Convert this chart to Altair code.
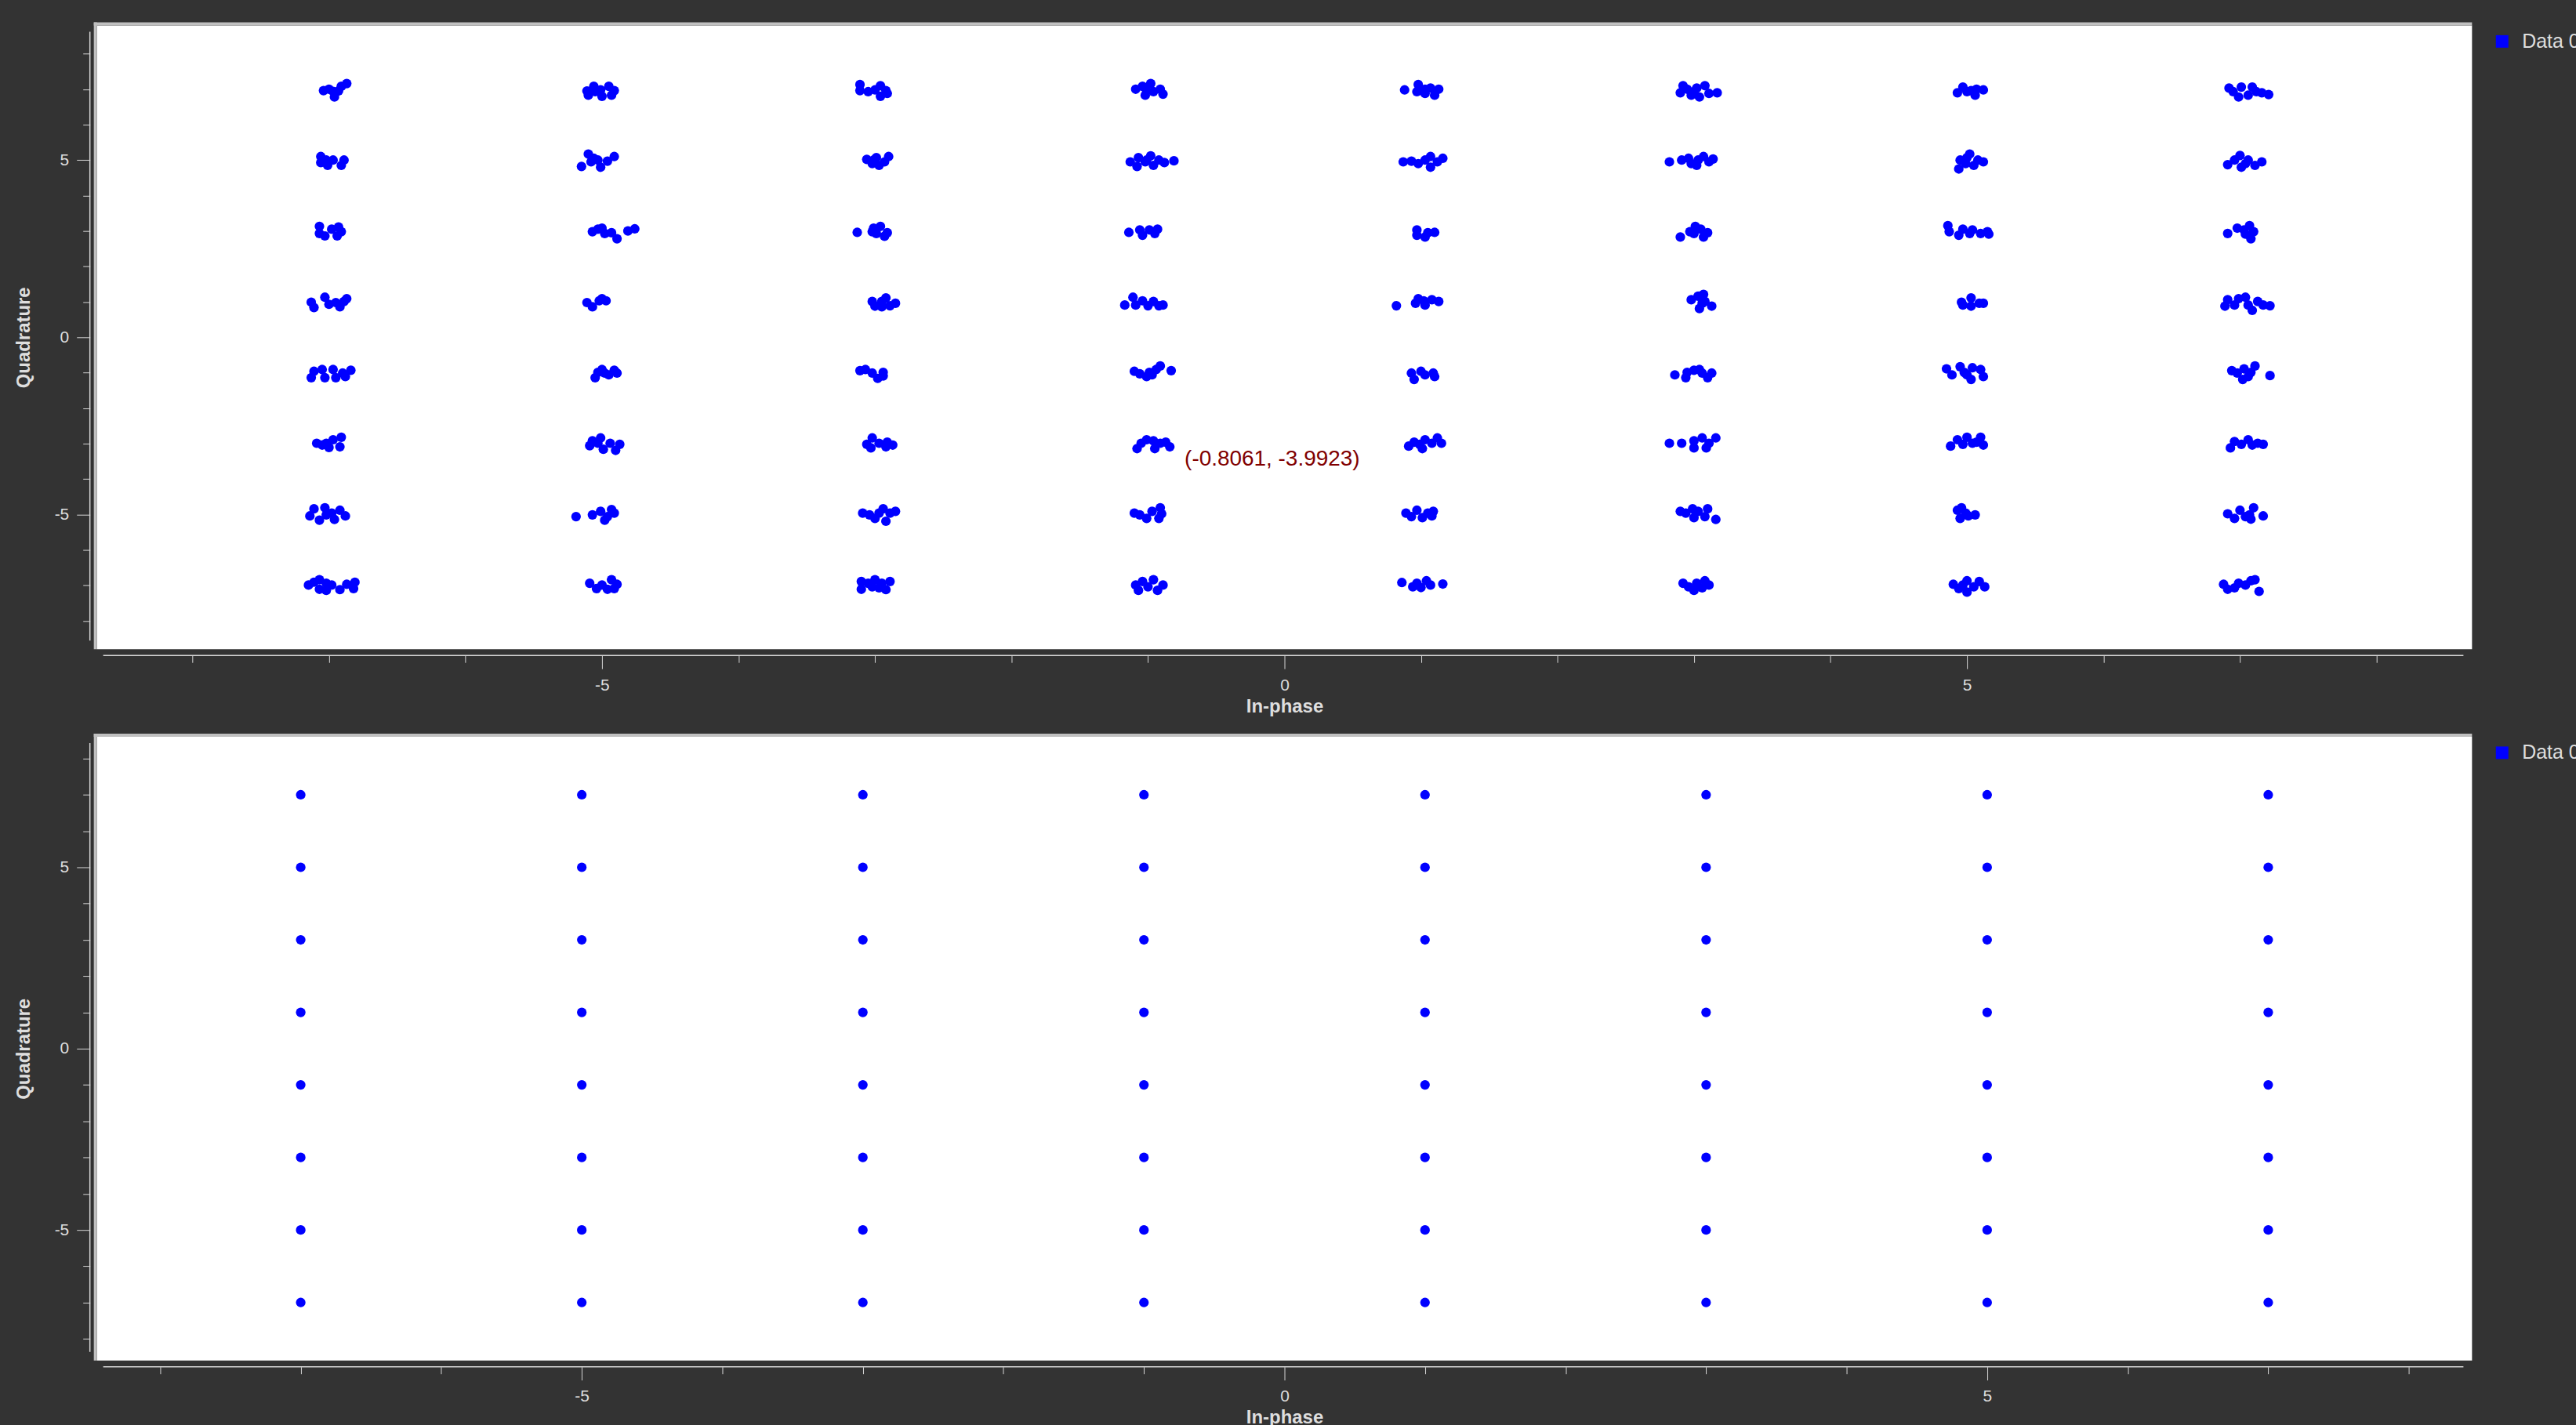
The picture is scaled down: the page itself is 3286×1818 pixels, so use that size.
import altair as alt
import pandas as pd

# Ideal 64-QAM levels (In-phase columns, Quadrature rows)
LEVELS_I = [-7, -5, -3, -1, 1, 3, 5, 7]
LEVELS_Q = [7, 5, 3, 1, -1, -3, -5, -7]
TICKS = list(range(-8, 9))
SERIES = "Data 0"
CURSOR = (-0.8061, -3.9923)

# Received-symbol offsets (dI, dQ) read per cluster; one list per column, rows Q = 7 .. -7
COL_M7 = [
    [(-0.04,-0.04),(0,0),(0.03,-0.06),(0.04,-0.22),(0.07,-0.05),(0.09,0.08),(0.13,0.16)],
    [(-0.06,0.10),(-0.06,-0.07),(-0.01,-0.15),(0.03,0),(0.09,-0.15),(0.11,0),(-0.02,0)],
    [(-0.07,0.13),(-0.07,-0.07),(-0.03,-0.14),(0.02,0.05),(0.06,-0.14),(0.09,-0.02),(0.07,0.11)],
    [(-0.13,-0.01),(-0.11,-0.16),(-0.03,0.13),(0,-0.07),(0.05,-0.02),(0.08,-0.14),(0.13,0.09),(0.11,0.01)],
    [(-0.13,-0.14),(-0.11,0.04),(-0.05,0.09),(-0.03,-0.14),(0.03,0.09),(0.05,-0.14),(0.12,-0.11),(0.16,0.07),(0.10,-0.01)],
    [(-0.09,0.01),(-0.05,-0.04),(0,-0.11),(0.03,0.11),(0.08,-0.09),(0.09,0.18),(-0.02,0.01)],
    [(-0.14,-0.04),(-0.11,0.16),(-0.07,-0.16),(-0.03,0.19),(-0.02,-0.01),(0.04,-0.14),(0.08,0.12),(0.12,-0.04),(0.02,0.04)],
    [(-0.15,0.01),(-0.11,0.09),(-0.07,-0.11),(-0.07,0.16),(-0.02,0.06),(-0.02,-0.14),(0.02,0.01),(0.08,-0.12),(0.13,0.03),(0.18,-0.09),(0.19,0.09)],
]
COL_M5 = [
    [(-0.11,-0.05),(-0.10,-0.17),(-0.06,0.08),(-0.01,-0.02),(0,-0.20),(0.05,0.08),(0.09,-0.04),(0.07,-0.17),(-0.05,-0.07)],
    [(-0.15,-0.18),(-0.10,0.17),(-0.08,-0.05),(-0.03,0),(-0.01,-0.20),(0.04,-0.03),(0.09,0.10),(-0.06,0.05)],
    [(-0.07,-0.02),(-0.03,0.05),(0.02,-0.07),(0.07,-0.05),(0.11,-0.22),(0.19,0),(0.24,0.06),(0,0.08)],
    [(-0.11,-0.02),(-0.07,-0.14),(-0.02,0.03),(0.03,0.03),(0,0.09)],
    [(-0.05,-0.14),(-0.03,0.01),(0,0.09),(0.05,-0.06),(0.09,0.07),(0.11,-0.01),(0.02,-0.01)],
    [(-0.09,-0.06),(-0.07,0.08),(-0.01,0.16),(0.01,-0.16),(0.06,0.01),(0.10,-0.19),(0.13,-0.02),(-0.03,0.01)],
    [(-0.19,-0.06),(-0.07,-0.01),(-0.01,0.09),(0.02,-0.16),(0.07,0.14),(0.09,0.04),(0.04,-0.06)],
    [(-0.09,0.06),(-0.04,-0.09),(0,0.01),(0.04,-0.11),(0.07,0.16),(0.11,0.03),(0.09,-0.09)],
]
COL_M3 = [
    [(-0.11,0.13),(-0.11,-0.04),(-0.05,-0.07),(0,-0.02),(0.04,0.10),(0.04,-0.20),(0.09,-0.12),(0.08,-0.04)],
    [(-0.06,0.02),(-0.02,-0.10),(0.01,0.07),(0.03,-0.15),(0.07,-0.05),(0.10,0.10),(-0.01,0)],
    [(-0.13,-0.04),(-0.01,0.08),(0.01,-0.07),(0.04,0.13),(0.07,-0.15),(0.09,-0.05),(-0.02,-0.02)],
    [(-0.02,0.01),(0,-0.12),(0.05,-0.14),(0.08,0.11),(0.11,-0.11),(0.15,-0.04),(0.05,0.01)],
    [(-0.11,0.06),(-0.07,0.09),(-0.02,-0.01),(0.02,-0.16),(0.06,0.01),(0.06,-0.09)],
    [(-0.06,-0.02),(-0.02,0.16),(-0.03,-0.12),(0.03,0.01),(0.08,-0.09),(0.13,-0.04),(0.09,0.04)],
    [(-0.09,0.04),(-0.04,-0.01),(0,-0.11),(0.06,0.16),(0.08,-0.19),(0.11,0.04),(0.15,0.09),(0.03,0.04)],
    [(-0.10,0.11),(-0.10,-0.11),(-0.05,0.06),(0,0.16),(0.03,-0.07),(0.08,-0.12),(0.11,0.11),(-0.02,-0.04),(0.05,0.06)],
]
COL_M1 = [
    [(-0.09,0),(-0.04,0.08),(-0.02,-0.17),(0.02,0.16),(0.04,-0.07),(0.09,0),(0.11,-0.14),(-0.01,-0.04)],
    [(-0.13,-0.05),(-0.08,-0.18),(-0.07,0.07),(-0.02,-0.05),(0.02,0.12),(0.04,-0.15),(0.08,0),(0.12,-0.07),(0.19,-0.02),(-0.01,0)],
    [(-0.14,-0.04),(-0.06,0.03),(-0.04,-0.12),(0.01,0.03),(0.05,-0.07),(0.07,0.05)],
    [(-0.17,-0.09),(-0.11,0.13),(-0.09,-0.09),(-0.04,0.03),(0,-0.11),(0.04,0.01),(0.08,-0.11),(0.11,-0.09)],
    [(-0.10,0.04),(-0.06,-0.03),(-0.01,-0.11),(0.03,-0.06),(0.06,0.09),(0.09,0.19),(0.17,0.06),(0.01,0.01)],
    [(-0.08,-0.14),(-0.05,0.01),(-0.01,0.11),(0.04,0.08),(0.05,-0.14),(0.09,0.01),(0.16,-0.09),(0.13,0.04)],
    [(-0.10,0.04),(-0.06,-0.01),(-0.01,-0.11),(0.03,0.09),(0.08,-0.11),(0.09,0.19),(0.10,0.02)],
    [(-0.09,0.01),(-0.07,-0.14),(-0.04,0.11),(0,-0.04),(0.04,0.16),(0.07,-0.14),(0.11,0.01)],
]
COL_P1 = [
    [(-0.12,-0.02),(-0.03,-0.07),(-0.02,0.13),(0.03,-0.12),(0.07,0.03),(0.10,-0.17),(0.13,0),(0.03,0)],
    [(-0.13,-0.05),(-0.07,-0.03),(-0.02,-0.10),(0.03,0),(0.07,0.10),(0.07,-0.20),(0.12,-0.05),(0.16,0.05)],
    [(-0.03,0.03),(-0.03,-0.12),(0.03,-0.17),(0.05,-0.05),(0.10,-0.04)],
    [(-0.18,-0.11),(-0.04,-0.04),(-0.02,0.09),(0.03,-0.09),(0.08,0.06),(0.13,0.01),(0.02,0.03)],
    [(-0.07,-0.01),(-0.05,-0.19),(0,0.04),(0.03,-0.06),(0.09,-0.01),(0.10,-0.11)],
    [(-0.09,-0.07),(-0.05,0.04),(0.01,-0.14),(0.03,0.11),(0.08,0.01),(0.12,0.16),(0.15,0.01),(-0.01,-0.02)],
    [(-0.11,0.04),(-0.07,-0.06),(-0.03,0.12),(0.01,-0.09),(0.05,0.04),(0.08,-0.04),(0.09,0.09)],
    [(-0.14,0.08),(-0.06,-0.04),(-0.03,0.06),(0,-0.06),(0.04,0.13),(0.07,0.01),(0.16,0.04)],
]
COL_P3 = [
    [(-0.10,-0.10),(-0.08,0.10),(-0.05,0),(-0.02,-0.17),(0.02,0.03),(0.04,-0.22),(0.08,0.10),(0.11,-0.12),(0.17,-0.10),(0,-0.07)],
    [(-0.18,-0.05),(-0.09,0),(-0.04,0.05),(-0.02,-0.10),(0.02,-0.15),(0.03,0),(0.07,0.10),(0.11,-0.05),(0.14,0.03)],
    [(-0.10,-0.17),(-0.03,-0.02),(0.01,0.13),(0.05,0.05),(0.07,-0.17),(0.10,-0.05),(0,-0.07)],
    [(-0.02,0.06),(0.03,0.16),(0.07,0.21),(0.04,-0.19),(0.08,0.01),(0.13,-0.12),(0.06,-0.04)],
    [(-0.14,-0.06),(-0.06,-0.14),(-0.05,0.01),(0,0.07),(0.04,0.09),(0.10,-0.14),(0.13,-0.01),(0.06,-0.01)],
    [(-0.18,0.01),(-0.09,0.01),(0,-0.12),(0,0.08),(0.06,0.16),(0.09,-0.12),(0.11,0.01),(0.16,0.16)],
    [(-0.10,0.09),(-0.06,0.04),(-0.01,0.16),(0,-0.09),(0.03,0.09),(0.08,-0.06),(0.10,0.16),(0.16,-0.14)],
    [(-0.08,0.06),(-0.04,-0.04),(0,-0.14),(0.02,0.06),(0.06,-0.07),(0.08,0.13),(0.11,0.01)],
]
COL_P5 = [
    [(-0.07,-0.10),(-0.03,0.06),(0,-0.07),(0.06,-0.17),(0.07,0),(0.12,-0.02),(0.03,-0.04)],
    [(-0.06,-0.25),(-0.05,0),(0,0.07),(0.02,0.17),(0.05,-0.15),(0.08,0),(0.12,-0.05),(-0.01,-0.10)],
    [(-0.14,0.15),(-0.13,-0.02),(-0.06,-0.12),(-0.03,0.05),(0.02,-0.07),(0.04,0.03),(0.10,-0.07),(0.16,-0.09),(0.15,-0.02)],
    [(-0.04,-0.01),(-0.03,-0.09),(0.03,0.11),(0.03,-0.12),(0.09,-0.04),(0.12,-0.04)],
    [(-0.15,0.11),(-0.11,-0.06),(-0.05,0.17),(-0.02,0.01),(0.03,-0.19),(0.04,0.14),(0.10,0.09),(0.12,-0.11),(0,-0.06)],
    [(-0.12,-0.07),(-0.07,0.11),(-0.03,-0.02),(0,0.18),(0.04,0.01),(0.10,0.18),(0.12,-0.04),(0.07,0.04)],
    [(-0.07,0.12),(-0.04,0.19),(-0.05,-0.11),(0.01,-0.04),(0.06,-0.01),(-0.01,0.04)],
    [(-0.10,0.03),(-0.06,-0.09),(0,0.13),(0,-0.19),(0.05,-0.04),(0.09,0.11),(0.13,-0.04),(-0.03,0.01)],
]
COL_P7 = [
    [(-0.08,0.03),(-0.05,-0.07),(-0.01,-0.22),(0.01,0.06),(0.06,-0.17),(0.09,0.06),(0.12,-0.07),(0.16,-0.10),(0.21,-0.15)],
    [(-0.09,-0.13),(-0.04,0),(0,0.13),(0.01,-0.20),(0.06,0),(0.11,-0.15),(0.16,-0.05),(0.04,-0.10)],
    [(-0.09,-0.07),(-0.02,0.08),(0.03,0.03),(0.07,0.15),(0.08,-0.22),(0.10,-0.02),(0.04,-0.09)],
    [(-0.11,-0.12),(-0.09,0.06),(-0.04,-0.09),(-0.01,0.09),(0.04,0.13),(0.06,-0.09),(0.09,-0.24),(0.13,0.01),(0.17,-0.09),(0.22,-0.11)],
    [(-0.06,0.06),(-0.02,-0.01),(0.02,-0.19),(0.03,0.11),(0.08,0.01),(0.11,0.19),(0.22,-0.08),(0.06,-0.11)],
    [(-0.07,-0.12),(-0.04,0.06),(0.01,-0.02),(0.06,0.11),(0.09,-0.04),(0.17,-0.02),(0.13,0.01)],
    [(-0.09,0.02),(-0.04,-0.11),(0,0.12),(0.04,-0.06),(0.07,-0.01),(0.10,0.19),(0.08,-0.13),(0.17,-0.04)],
    [(-0.12,0.03),(-0.09,-0.11),(-0.04,-0.07),(-0.01,0.06),(0.04,0.01),(0.08,0.13),(0.11,0.16),(0.14,-0.17)],
]
COLUMNS = [COL_M7, COL_M5, COL_M3, COL_M1, COL_P1, COL_P3, COL_P5, COL_P7]

rx, ry = [], []
for ci, col in zip(LEVELS_I, COLUMNS):
    for qi, pts in zip(LEVELS_Q, col):
        for dI, dQ in pts:
            rx.append(ci + dI)
            ry.append(qi + dQ)
received = pd.DataFrame({"I": rx, "Q": ry, "series": SERIES})
ideal = pd.DataFrame(
    [{"I": i, "Q": q, "series": SERIES} for i in LEVELS_I for q in LEVELS_Q]
)
one = pd.DataFrame({"k": [0]})

W, H = 3038, 798
FONT = "Liberation Sans"
FG = "#dedede"
TICK_C = "#d6d6d6"
MAJOR = "datum.value % 5 === 0"
LABEL_EXPR = f"{MAJOR} ? '' + datum.value : ''"


def panel(df, xdom, ydom, annotate):
    x_axis = alt.Axis(
        values=TICKS, labelExpr=LABEL_EXPR,
        tickSize={"condition": {"test": MAJOR, "value": 17}, "value": 9},
        offset=8, domain=False, grid=False, labelPadding=10, titlePadding=5,
        labelFlush=False, labelOverlap=False, title="In-phase",
    )
    y_axis = alt.Axis(
        values=TICKS, labelExpr=LABEL_EXPR,
        tickSize={"condition": {"test": MAJOR, "value": 17}, "value": 9},
        offset=9, domain=False, grid=False, labelPadding=10, titlePadding=27,
        labelFlush=False, labelOverlap=False, title="Quadrature",
    )
    pts = alt.Chart(df).mark_circle(size=150, opacity=1).encode(
        x=alt.X("I:Q", scale=alt.Scale(domain=xdom, nice=False, zero=False), axis=x_axis),
        y=alt.Y("Q:Q", scale=alt.Scale(domain=ydom, nice=False, zero=False), axis=y_axis),
        color=alt.Color(
            "series:N", scale=alt.Scale(range=["#0000ff"]),
            legend=alt.Legend(
                title=None, orient="none", legendX=3064, legendY=8,
                symbolType="square", symbolSize=256, symbolStrokeWidth=0,
                labelFontSize=25, labelColor=FG, labelFont=FONT,
                labelOffset=13, padding=0,
            ),
        ),
    )
    frame_top = alt.Chart(one).mark_rule(color="#c0c0c0", strokeWidth=4).encode(
        x=alt.value(-4), x2=alt.value(W), y=alt.value(-2))
    frame_left = alt.Chart(one).mark_rule(color="#c0c0c0", strokeWidth=4).encode(
        x=alt.value(-2), y=alt.value(-4), y2=alt.value(H))
    y_line = alt.Chart(one).mark_rule(color=TICK_C, strokeWidth=1.5).encode(
        x=alt.value(-9), y=alt.value(8), y2=alt.value(H - 11))
    x_line = alt.Chart(one).mark_rule(color=TICK_C, strokeWidth=1.5).encode(
        y=alt.value(H + 8), x=alt.value(8), x2=alt.value(W - 11))
    layers = [frame_top, frame_left, y_line, x_line, pts]
    if annotate:
        ann = pd.DataFrame({"I": [CURSOR[0]], "Q": [CURSOR[1]],
                            "txt": [f"({CURSOR[0]}, {CURSOR[1]})"]})
        layers.append(
            alt.Chart(ann).mark_text(
                align="left", baseline="alphabetic", dx=13, dy=-17,
                fontSize=28, font=FONT, color="#800000",
            ).encode(x="I:Q", y="Q:Q", text="txt:N")
        )
    return alt.layer(*layers).properties(width=W, height=H)


top = panel(received, [-8.7, 8.7], [-8.8, 8.8], True)
bottom = panel(ideal, [-8.45, 8.45], [-8.6, 8.6], False)

chart = (
    alt.vconcat(top, bottom, spacing=21)
    .resolve_scale(x="independent", y="independent", color="independent")
    .resolve_legend(color="independent")
    .properties(
        padding={"left": 18, "top": 24, "right": -5, "bottom": -5},
        background="#333333",
    )
    .configure_view(fill="white", stroke=None)
    .configure_axis(
        labelFont=FONT, titleFont=FONT, labelFontSize=21, titleFontSize=24,
        labelColor=FG, titleColor=FG, titleFontWeight="bold",
        tickColor=TICK_C, tickWidth=1,
    )
)

chart.save("out.html", embed_options={"renderer": "svg", "actions": False})
